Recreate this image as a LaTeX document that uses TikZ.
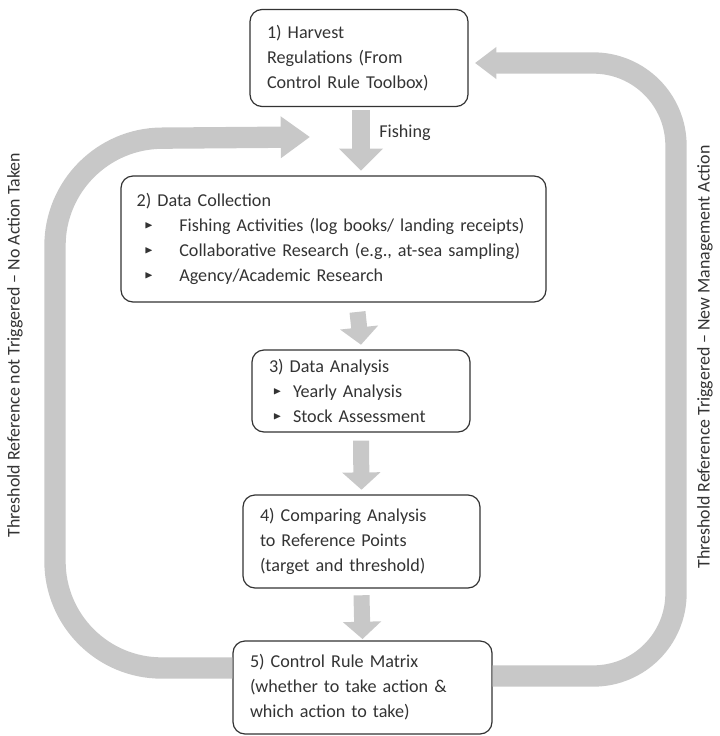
\documentclass[tikz,border=0pt]{standalone}
\usepackage{fontspec}
\usepackage{amssymb}
\setmainfont{Carlito}
\usetikzlibrary{arrows.meta}
\definecolor{loopgray}{HTML}{C8C8C8}
\definecolor{inkgray}{HTML}{333333}
\newcommand{\tri}{\raisebox{.3ex}{\scalebox{.6}{$\blacktriangleright$}}}
\newcommand{\bul}[2]{\makebox[#1][l]{\hspace*{#2}\tri}}
\begin{document}
\begin{tikzpicture}[x=.75pt,y=-.75pt,
    stage/.style={draw=inkgray,line width=.9pt,rounded corners=9pt,align=left,
      inner xsep=12.75pt,inner ysep=0pt,text=inkgray,
      font=\fontsize{13.6}{18.75}\selectfont},
    flow/.style={draw=loopgray,line width=12pt,-{Triangle[width=28pt,length=13pt]}},
    band/.style={draw=loopgray,line width=16pt,rounded corners=80pt},
    side/.style={text=inkgray,rotate=90,font=\fontsize{13.4}{16}\selectfont}]
  \useasboundingbox (0,0) rectangle (720,736);

  % the five stages
  \node[stage,text width=138pt,minimum height=72.75pt] (harvest) at (359,58)
    {1) Harvest\\Regulations (From\\Control Rule Toolbox)};
  \node[stage,inner xsep=11.75pt,text width=295.25pt,minimum height=94.5pt] (collect) at (333.5,239)
    {2) Data Collection\\
     \bul{32pt}{6pt}Fishing Activities (log books/ landing receipts)\\
     \bul{32pt}{6pt}Collaborative Research (e.g., at-sea sampling)\\
     \bul{32pt}{6pt}Agency/Academic Research};
  \node[stage,text width=138pt,minimum height=61.5pt] (analysis) at (361,391)
    {3) Data Analysis\\
     \bul{18pt}{3pt}Yearly Analysis\\
     \bul{18pt}{3pt}Stock Assessment};
  \node[stage,text width=152.25pt,minimum height=69.75pt] (compare) at (361.5,541.5)
    {4) Comparing Analysis\\to Reference Points\\(target and threshold)};
  \node[stage,text width=168.75pt,minimum height=69.75pt] (matrix) at (362.5,687.5)
    {5) Control Rule Matrix\\(whether to take action \&\\which action to take)};

  % arrows down the middle
  \draw[flow,line width=13.5pt,-{Triangle[width=32pt,length=16.5pt]}]
    ([xshift=1.5pt,yshift=-2pt]harvest.south) -- ([xshift=1.5pt,yshift=3.5pt]harvest.south |- collect.north);
  \node[text=inkgray,font=\fontsize{13.6}{16}\selectfont] (fishing) at (405,133) {Fishing};
  \draw[flow] ([xshift=18pt,yshift=-7pt]collect.south) -- ([yshift=3.5pt]analysis.north);
  \draw[flow] ([yshift=-6pt]analysis.south) -- ([yshift=3.5pt]compare.north);
  \draw[flow] ([yshift=-5pt]compare.south) -- ([yshift=1pt]matrix.north);

  % feedback loops
  \coordinate (lowleft) at (55,668);
  \coordinate (upleft) at (55,139);
  \coordinate (lefttip) at (310,137);
  \draw[band,-{Triangle[width=30pt,length=22pt]}]
    (matrix.west |- lowleft) -- (lowleft) -- (upleft) -- (lefttip);
  \coordinate (lowright) at (676,676);
  \coordinate (upright) at (676,63);
  \coordinate (righttip) at (475,63);
  \draw[band,rounded corners=62pt,-{Triangle[width=23pt,length=16pt]}]
    (matrix.east |- lowright) -- (lowright) -- (upright) -- (righttip);

  \node[side] (notrig) at (15,345) {Threshold Reference not Triggered -- No Action Taken};
  \node[side] (trig) at (705,357) {Threshold Reference Triggered -- New Management Action};
\end{tikzpicture}
\end{document}
